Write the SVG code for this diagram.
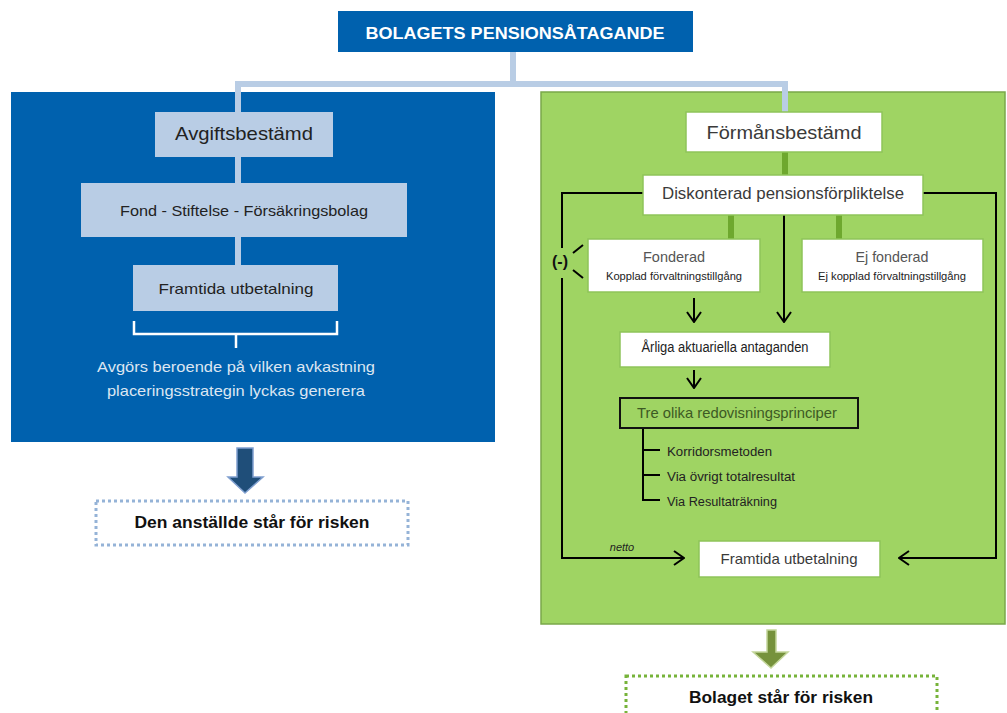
<svg xmlns="http://www.w3.org/2000/svg" width="1007" height="713" viewBox="0 0 1007 713">
<defs>
<style>
text{font-family:"Liberation Sans",Arial,sans-serif;text-anchor:middle}
.lb{fill:#b9cde5}
.wb{fill:#ffffff;stroke:#8fc45a;stroke-width:1.5}
.bl{stroke:#b9cde5;stroke-width:6;fill:none}
.gl{stroke:#6ea82e;stroke-width:6;fill:none}
.k{stroke:#000;stroke-width:2;fill:none}
.dk{fill:#222}
.gr{fill:#3a3a3a}
</style>
<marker id="ah" viewBox="0 0 12 16" refX="11" refY="8" markerWidth="12" markerHeight="16" markerUnits="userSpaceOnUse" orient="auto">
<path d="M1,1 L11,8 L1,15" fill="none" stroke="#000" stroke-width="2"/>
</marker>
</defs>
<rect width="1007" height="713" fill="#fff"/>

<g id="panel-left">
<rect x="11" y="92" width="484" height="350" fill="#0061ae"/>
</g>
<g id="panel-right">
<rect x="541" y="92" width="464" height="532" fill="#9fd463" stroke="#7aa84a" stroke-width="1.5"/>
</g>

<g id="connectors">
<path class="bl" d="M513,52 V84 M238,84 H785 M238,81 V112 M785,81 V112"/>
<path class="bl" d="M238,157 V183 M238,237 V265"/>
<path class="gl" d="M785,152 V175 M731,215 V239 M839,215 V239"/>
<path class="k" d="M784,215 V322" marker-end="url(#ah)"/>
<path class="k" d="M694,298 V322" marker-end="url(#ah)"/>
<path class="k" d="M694,370 V388" marker-end="url(#ah)"/>
<path class="k" d="M643,193 H562 V558 H684" marker-end="url(#ah)"/>
<path class="k" d="M923,193 H996 V558 H899" marker-end="url(#ah)"/>
<path class="k" d="M573,253 L583,245 M573,270 L583,278" stroke-width="1.5"/>
<path class="k" d="M643,428 V500 H660 M643,450 H660 M643,475 H660" stroke-width="1.5"/>
<path d="M134,321 V334 H236 V348 M236,334 H337 V321" fill="none" stroke="#fff" stroke-width="2.5"/>
</g>

<g id="title">
<rect x="338" y="11" width="355" height="41" fill="#0061ae"/>
<text x="515" y="39" font-size="17" font-weight="bold" fill="#fff" textLength="299" lengthAdjust="spacingAndGlyphs">BOLAGETS PENSIONSÅTAGANDE</text>
</g>

<g id="avgiftsbestamd">
<rect class="lb" x="155" y="112" width="178" height="45"/>
<text class="dk" x="244" y="140" font-size="19" textLength="138" lengthAdjust="spacingAndGlyphs">Avgiftsbestämd</text>
</g>
<g id="fond">
<rect class="lb" x="81" y="183" width="326" height="54"/>
<text class="dk" x="244" y="216" font-size="15" textLength="248" lengthAdjust="spacingAndGlyphs">Fond - Stiftelse - Försäkringsbolag</text>
</g>
<g id="framtida-left">
<rect class="lb" x="133" y="265" width="205" height="46"/>
<text class="dk" x="236" y="294" font-size="15" textLength="155" lengthAdjust="spacingAndGlyphs">Framtida utbetalning</text>
</g>
<g id="avgors-text">
<text x="236" y="372" font-size="15" fill="#dce6f2" textLength="278" lengthAdjust="spacingAndGlyphs">Avgörs beroende på vilken avkastning</text>
<text x="236" y="396" font-size="15" fill="#dce6f2" textLength="258" lengthAdjust="spacingAndGlyphs">placeringsstrategin lyckas generera</text>
</g>
<g id="arrow-left">
<polygon points="237,448 253,448 253,477 263,477 245,493 228,477 237,477" fill="#1f4e79" stroke="#7f9fcf" stroke-width="1.5"/>
</g>
<g id="risk-left">
<rect x="96" y="501" width="312" height="44" fill="#fff" stroke="#95b3d7" stroke-width="3" stroke-dasharray="3,3"/>
<text x="252" y="528" font-size="17" font-weight="bold" fill="#111" textLength="235" lengthAdjust="spacingAndGlyphs">Den anställde står för risken</text>
</g>

<g id="formansbestamd">
<rect class="wb" x="686" y="112" width="196" height="40"/>
<text class="gr" x="784" y="139" font-size="19" textLength="155" lengthAdjust="spacingAndGlyphs">Förmånsbestämd</text>
</g>
<g id="diskonterad">
<rect class="wb" x="643" y="175" width="280" height="40"/>
<text class="gr" x="783" y="199" font-size="16" textLength="242" lengthAdjust="spacingAndGlyphs">Diskonterad pensionsförpliktelse</text>
</g>
<g id="fonderad">
<rect class="wb" x="588" y="239" width="172" height="53"/>
<text x="674" y="262" font-size="15" fill="#555" textLength="62" lengthAdjust="spacingAndGlyphs">Fonderad</text>
<text class="dk" x="674" y="280" font-size="10.5" textLength="136" lengthAdjust="spacingAndGlyphs">Kopplad förvaltningstillgång</text>
</g>
<g id="ej-fonderad">
<rect class="wb" x="802" y="239" width="181" height="53"/>
<text x="892" y="262" font-size="15" fill="#555" textLength="73" lengthAdjust="spacingAndGlyphs">Ej fonderad</text>
<text class="dk" x="892" y="280" font-size="10.5" textLength="148" lengthAdjust="spacingAndGlyphs">Ej kopplad förvaltningstillgång</text>
</g>
<g id="minus">
<rect x="551" y="248" width="19" height="30" fill="#9fd463"/>
<text x="560" y="267" font-size="16" font-weight="bold" fill="#111" textLength="16" lengthAdjust="spacingAndGlyphs">(-)</text>
</g>
<g id="arliga">
<rect class="wb" x="620" y="332" width="210" height="35"/>
<text class="dk" x="725" y="352" font-size="14" textLength="167" lengthAdjust="spacingAndGlyphs">Årliga aktuariella antaganden</text>
</g>
<g id="tre-olika">
<rect x="620" y="398" width="238" height="30" fill="#9fd463" stroke="#111" stroke-width="2"/>
<text x="737" y="418" font-size="15" fill="#3d5a24" textLength="200" lengthAdjust="spacingAndGlyphs">Tre olika redovisningsprinciper</text>
</g>
<g id="principer">
<text class="dk" x="667" y="456" font-size="12" style="text-anchor:start" textLength="105" lengthAdjust="spacingAndGlyphs">Korridorsmetoden</text>
<text class="dk" x="667" y="481" font-size="12" style="text-anchor:start" textLength="128" lengthAdjust="spacingAndGlyphs">Via övrigt totalresultat</text>
<text class="dk" x="667" y="506" font-size="12" style="text-anchor:start" textLength="110" lengthAdjust="spacingAndGlyphs">Via Resultaträkning</text>
</g>
<g id="netto">
<text class="dk" x="622" y="551" font-size="11" font-style="italic">netto</text>
</g>
<g id="framtida-right">
<rect class="wb" x="699" y="541" width="181" height="36"/>
<text class="gr" x="789" y="564" font-size="15" textLength="137" lengthAdjust="spacingAndGlyphs">Framtida utbetalning</text>
</g>
<g id="arrow-right">
<polygon points="767,630 776,630 776,652 788,652 771,668 753,652 767,652" fill="#76923c" stroke="#c3d69b" stroke-width="1.5"/>
</g>
<g id="risk-right">
<rect x="626" y="676" width="311" height="50" fill="#fff" stroke="#77b33a" stroke-width="3" stroke-dasharray="3,3"/>
<text x="781" y="703" font-size="17" font-weight="bold" fill="#111" textLength="184" lengthAdjust="spacingAndGlyphs">Bolaget står för risken</text>
</g>
</svg>
